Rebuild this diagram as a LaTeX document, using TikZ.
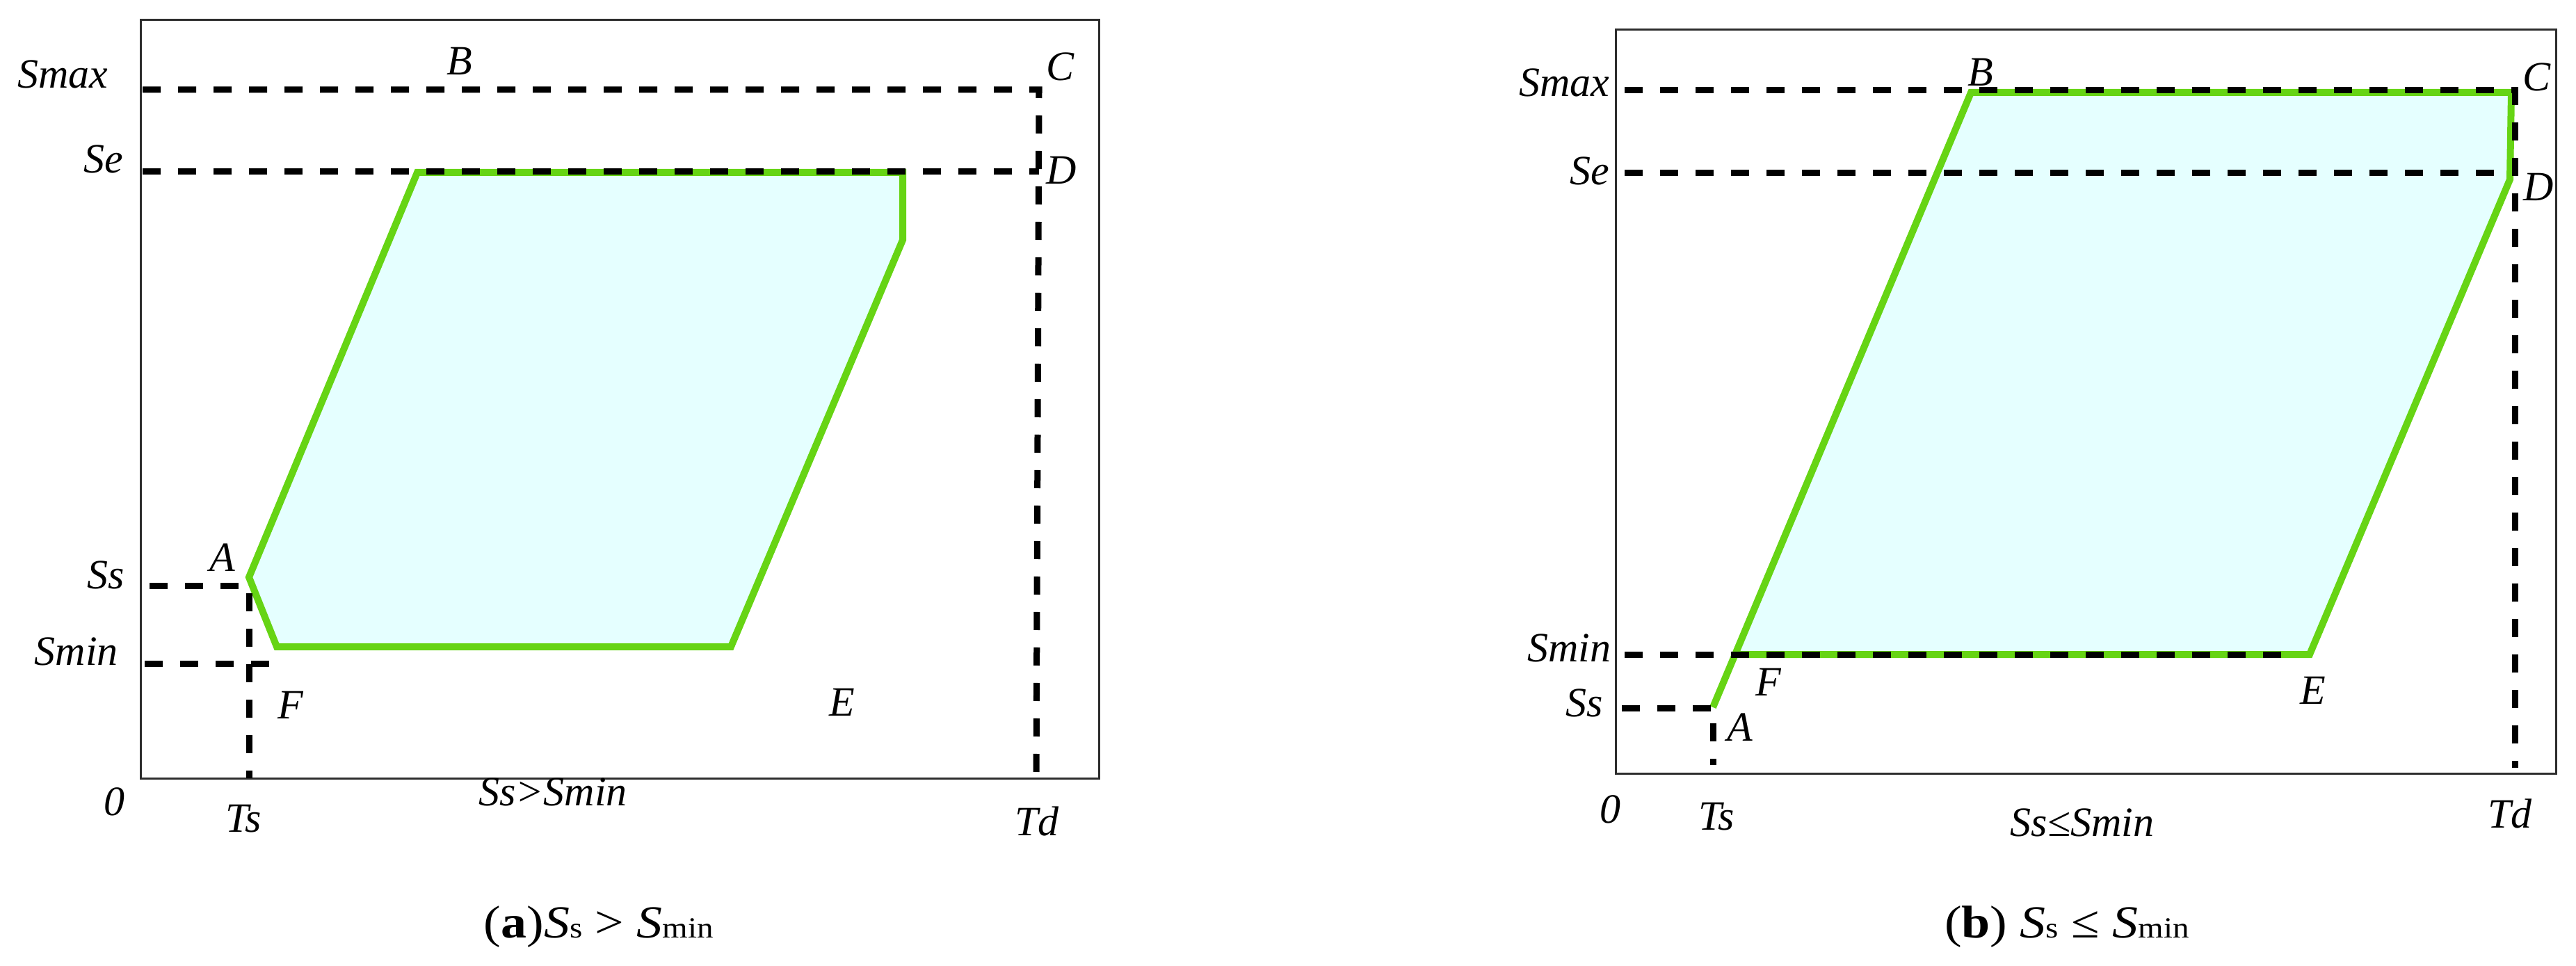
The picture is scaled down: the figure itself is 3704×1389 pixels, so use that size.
\documentclass[tikz,border=0pt]{standalone}
\usepackage{fontspec}
\setmainfont{Liberation Serif}
\newfontfamily\capfont[FakeStretch=1.12]{Liberation Serif}
\definecolor{lg}{RGB}{102,212,20}
\definecolor{lc}{RGB}{229,255,255}
\definecolor{fr}{RGB}{45,45,45}
\newcommand\subtxt[1]{{\fontsize{10.5}{12}\selectfont #1}}
\begin{document}
\begin{tikzpicture}[x=0.25pt,y=-0.25pt,
  frame/.style={draw=fr,line width=0.75pt},
  guide/.style={draw=black,line width=2.25pt,dash pattern=on 6.5pt off 6.25pt},
  region/.style={fill=lc},
  edge/.style={draw=lg,line width=2.5pt,line join=miter},
  lbl/.style={inner sep=0pt,font=\fontsize{15}{18}\selectfont\itshape},
  captxt/.style={inner sep=0pt,anchor=base,font=\capfont\fontsize{16.5}{19}\selectfont}]
\useasboundingbox (0,0) rectangle (3704,1389);

% ---------------- panel (a) ----------------
\coordinate (aTL) at (202,29);
\coordinate (aBR) at (1580,1119);
\draw[frame] (aTL) rectangle (aBR);

\coordinate (aA) at (358,830);
\coordinate (aB) at (600,248);
\coordinate (aC) at (1298,248);
\coordinate (aD) at (1298,345);
\coordinate (aE) at (1051,930);
\coordinate (aF) at (398,930);
\path[region] (aA) -- (aB) -- (aC) -- (aD) -- (aE) -- (aF) -- cycle;
\draw[edge] (aA) -- (aB) -- (aC) -- (aD) -- (aE) -- (aF) -- cycle;

\coordinate (aSmaxL) at (205,129);
\coordinate (aSmaxR) at (1494,129);
\coordinate (aTdB) at (1490,1119);
\coordinate (aSeL) at (205,247);
\coordinate (aSeR) at (1494,247);
\coordinate (aSsL) at (215,843);
\coordinate (aSsR) at (358,843);
\coordinate (aTsB) at (358,1119);
\coordinate (aSminL) at (208,954);
\coordinate (aSminR) at (387,954);
\draw[guide] (aSmaxL) -- (aSmaxR) -- (aTdB);
\draw[guide] (aSeL) -- (aSeR);
\draw[guide] (aSsL) -- (aSsR) -- (aTsB);
\draw[guide] (aSminL) -- (aSminR);

\node[lbl] (aLSmax) at (90,107) {Smax};
\node[lbl] (aLSe) at (149,229) {Se};
\node[lbl] (aLSs) at (152,827) {Ss};
\node[lbl] (aLSmin) at (110,937) {Smin};
\node[lbl] (aL0) at (164,1153) {0};
\node[lbl] (aLTs) at (350,1177) {Ts};
\node[lbl] (aLTd) at (1491,1181) {Td};
\node[lbl] (aLcond) at (795,1139) {Ss\textgreater Smin};
\node[lbl] (aLA) at (320,802) {A};
\node[lbl] (aLB) at (661,88) {B};
\node[lbl] (aLC) at (1524,96) {C};
\node[lbl] (aLD) at (1526,245) {D};
\node[lbl] (aLE) at (1211,1010) {E};
\node[lbl] (aLF) at (418,1014) {F};
\node[captxt] (aCap) at (861,1348) {(\textbf{a})\textit{S}\subtxt{s} \textgreater{} \textit{S}\subtxt{min}};

% ---------------- panel (b) ----------------
\coordinate (bTL) at (2323,43);
\coordinate (bBR) at (3675,1112);
\draw[frame] (bTL) rectangle (bBR);

\coordinate (bA) at (2463,1017);
\coordinate (bB) at (2834,133);
\coordinate (bC) at (3611,133);
\coordinate (bD) at (3609,258);
\coordinate (bE) at (3321,941);
\coordinate (bF) at (2495,941);
\path[region] (bF) -- (bB) -- (bC) -- (bD) -- (bE) -- cycle;
\draw[edge] (bA) -- (bB) -- (bC) -- (bD) -- (bE) -- (bF);

\coordinate (bSmaxL) at (2336,130);
\coordinate (bSmaxR) at (3616,130);
\coordinate (bTdB) at (3616,1104);
\coordinate (bSeL) at (2336,249);
\coordinate (bSeR) at (3605,249);
\coordinate (bSminL) at (2336,941);
\coordinate (bSminR) at (3300,941);
\coordinate (bSsL) at (2332,1018);
\coordinate (bSsR) at (2463,1018);
\coordinate (bTsB) at (2463,1100);
\draw[guide] (bSmaxL) -- (bSmaxR) -- (bTdB);
\draw[guide] (bSeL) -- (bSeR);
\draw[guide] (bSminL) -- (bSminR);
\draw[guide] (bSsL) -- (bSsR) -- (bTsB);

\node[lbl] (bLSmax) at (2249,119) {Smax};
\node[lbl] (bLSe) at (2286,246) {Se};
\node[lbl] (bLSmin) at (2256,932) {Smin};
\node[lbl] (bLSs) at (2278,1011) {Ss};
\node[lbl] (bL0) at (2315,1164) {0};
\node[lbl] (bLTs) at (2468,1174) {Ts};
\node[lbl] (bLTd) at (3609,1170) {Td};
\node[lbl] (bLcond) at (2994,1183) {Ss≤Smin};
\node[lbl] (bLA) at (2502,1046) {A};
\node[lbl] (bLB) at (2848,104) {B};
\node[lbl] (bLC) at (3647,111) {C};
\node[lbl] (bLD) at (3650,269) {D};
\node[lbl] (bLE) at (3326,993) {E};
\node[lbl] (bLF) at (2543,981) {F};
\node[captxt] (bCap) at (2972,1348) {(\textbf{b}) \textit{S}\subtxt{s} ≤ \textit{S}\subtxt{min}};
\end{tikzpicture}
\end{document}
